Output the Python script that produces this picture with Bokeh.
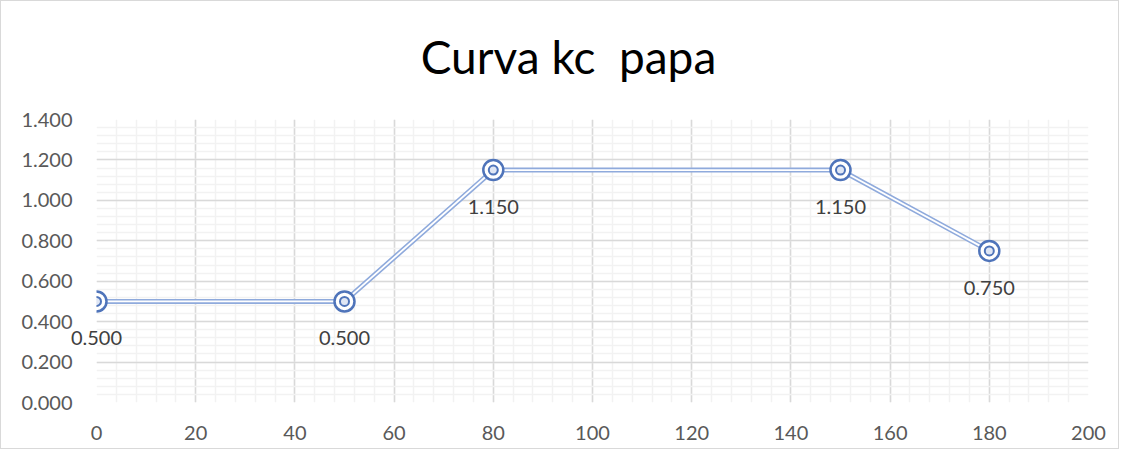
from bokeh.plotting import figure
from bokeh.models import ColumnDataSource, FixedTicker, Label, Range1d, PrintfTickFormatter
from bokeh.embed import file_html
from bokeh.resources import INLINE

# Data
days = [0, 50, 80, 150, 180]
kc = [0.500, 0.500, 1.150, 1.150, 0.750]
labels = ["%.3f" % v for v in kc]
title_text = "Curva kc\u00a0 papa"

x_ticks = list(range(0, 201, 20))
y_ticks = [0.0, 0.2, 0.4, 0.6, 0.8, 1.0, 1.2, 1.4]
x_minor = list(range(0, 201, 4))
y_minor = [round(i * 0.04, 2) for i in range(0, 36)]

FONT = "Lato"

p = figure(width=1119, height=449, output_backend="svg", toolbar_location=None,
           x_range=Range1d(0, 200), y_range=Range1d(0, 1.4),
           min_border_left=95, min_border_right=32, min_border_top=118, min_border_bottom=48)
p.outline_line_color = None
p.background_fill_color = "white"
p.border_fill_color = "white"
p.styles = {"border": "1px solid #d9d9d9"}

# chart title, drawn in the top panel so that it is not clipped by the plot area
p.add_layout(Label(x=472, y=1.712, x_units="screen", y_units="data", text=title_text,
                   text_align="center", text_baseline="middle",
                   text_font=FONT, text_font_size="46px", text_color="#000000"), "above")

p.xaxis.ticker = FixedTicker(ticks=x_ticks, minor_ticks=x_minor)
p.yaxis.ticker = FixedTicker(ticks=y_ticks, minor_ticks=y_minor)
p.yaxis.formatter = PrintfTickFormatter(format="%.3f")
for ax in (p.xaxis[0], p.yaxis[0]):
    ax.axis_line_color = None
    ax.major_tick_line_color = None
    ax.minor_tick_line_color = None
    ax.major_label_text_font = FONT
    ax.major_label_text_font_size = "20px"
    ax.major_label_text_color = "#595959"
p.xaxis.major_label_standoff = 17
p.yaxis.major_label_standoff = 18

p.xgrid.grid_line_color = "#d9d9d9"
p.ygrid.grid_line_color = "#d9d9d9"
p.xgrid.minor_grid_line_color = "#f2f2f2"
p.ygrid.minor_grid_line_color = "#f2f2f2"
p.xgrid.grid_line_width = 1.5
p.ygrid.grid_line_width = 1.5
p.xgrid.minor_grid_line_width = 1.5
p.ygrid.minor_grid_line_width = 1.5

src = ColumnDataSource(dict(x=days, y=kc, lab=labels))

# double (compound) line
p.line("x", "y", source=src, line_color="#8faadc", line_width=5)
p.line("x", "y", source=src, line_color="white", line_width=1.8)

# double circle markers
p.scatter("x", "y", source=src, marker="circle", size=20, fill_color="white",
          line_color="#4f74ba", line_width=2.5)
p.scatter("x", "y", source=src, marker="circle", size=9, fill_color="#dfe6f4",
          line_color="#4f74ba", line_width=2)

for i, (xv, yv, t) in enumerate(zip(days, kc, labels)):
    lab = Label(x=xv, y=yv, text=t, y_offset=-37,
                text_align="center", text_baseline="middle",
                text_font=FONT, text_font_size="20px", text_color="#404040")
    # the first label overhangs the plot area, so it lives in a side panel (unclipped)
    p.add_layout(lab, "above" if i == 0 else "center")

open("out.html", "w").write(file_html(p, INLINE))
